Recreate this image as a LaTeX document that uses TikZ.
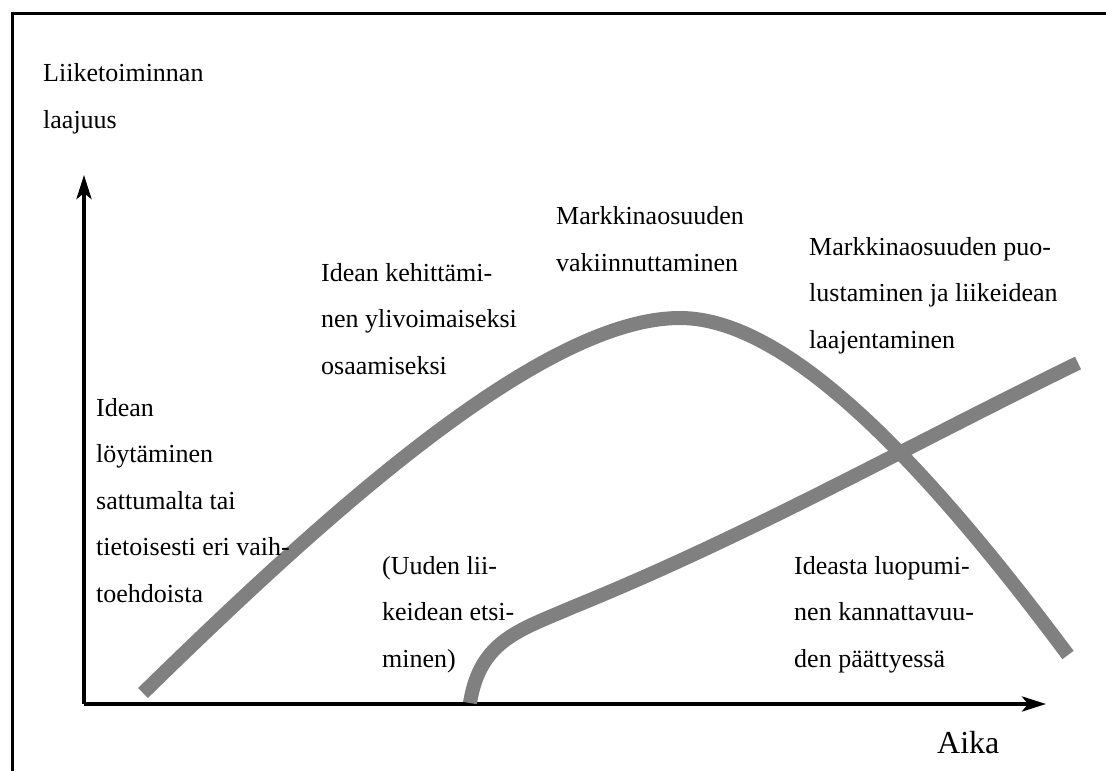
\documentclass[tikz,border=0pt]{standalone}
\usepackage{fontspec}
\setmainfont{Liberation Serif}
\usetikzlibrary{arrows.meta}

\tikzset{
  akseli/.style={line width=4pt, black, -{Stealth[length=24pt,width=15pt,inset=6pt]}},
  kayra/.style={line width=14pt, gray},
  teksti/.style={anchor=base west, align=left, inner sep=0pt, font=\fontsize{26}{46.5}\selectfont}
}

\begin{document}
\begin{tikzpicture}[x=1pt, y=-1pt]
		\useasboundingbox (0,0) rectangle (1106,771);
		
		% Kehys
		\draw[line width=3pt, black] (12,771) -- (12,13) -- (1106,13);
		
		% Akselit
		\coordinate (origo) at (84,704);
		\coordinate (ykarki) at (84,175);
		\coordinate (xkarki) at (1046,704);
		\draw[akseli] (origo) -- (ykarki);
		\draw[akseli] (origo) -- (xkarki);
		
		% Kayrat
		\draw[kayra] (143,693) .. controls (320,520) and (540,318) .. (680,318)
		                        .. controls (790,318) and (930,470) .. (1068,655);
		\draw[kayra] (470,703) .. controls (480,640) and (520,630) .. (573,607)
		                        .. controls (750,535) and (900,450) .. (1078,363);
		
		% Tekstit (base = viimeisen rivin peruslinja)
		\node[teksti] (ylabel) at (43,128) {Liiketoiminnan\\laajuus};
		\node[teksti] (vaihe1) at (96,602) {Idean\\löytäminen\\sattumalta tai\\tietoisesti eri vaih-\\toehdoista};
		\node[teksti] (vaihe2) at (321,374) {Idean kehittämi-\\nen ylivoimaiseksi\\osaamiseksi};
		\node[teksti] (vaihe3) at (556,271) {Markkinaosuuden\\vakiinnuttaminen};
		\node[teksti] (vaihe4) at (809,348) {Markkinaosuuden puo-\\lustaminen ja liikeidean\\laajentaminen};
		\node[teksti] (uusi) at (382,667) {(Uuden lii-\\keidean etsi-\\minen)};
		\node[teksti] (luopuminen) at (794,667) {Ideasta luopumi-\\nen kannattavuu-\\den päättyessä};
		\node[anchor=base west, inner sep=0pt, font=\fontsize{32}{38}\selectfont] (xlabel) at (937,753) {Aika};
	\end{tikzpicture}
\end{document}
